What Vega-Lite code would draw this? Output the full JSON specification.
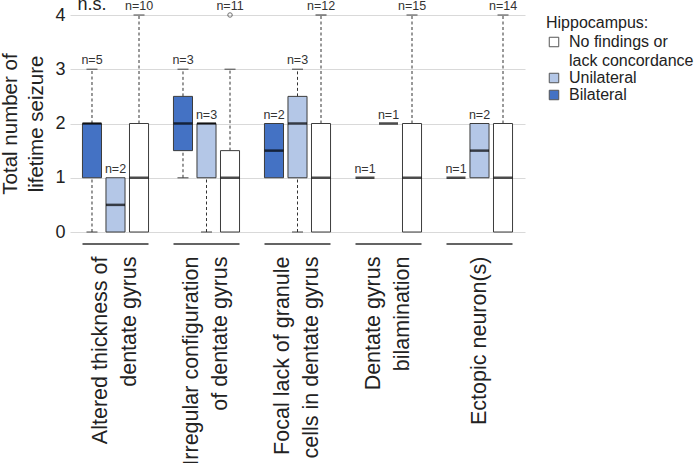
{
  "$schema": "https://vega.github.io/schema/vega-lite/v6.json",
  "width": 455,
  "height": 217,
  "autosize": {"type": "none"},
  "padding": {"left": 70, "top": 15, "right": 171, "bottom": 231},
  "background": "white",
  "config": {
    "font": "Liberation Sans",
    "view": {"stroke": null},
    "style": {"guide-label": {"lineHeight": 19}}
  },
  "datasets": {
    "stats": [
      {"group": "Altered thickness of\ndentate gyrus", "hippo": "Bilateral", "n": 5, "lo": 0, "q1": 1, "med": 2, "q3": 2, "hi": 3, "top": 3},
      {"group": "Altered thickness of\ndentate gyrus", "hippo": "Unilateral", "n": 2, "lo": 0, "q1": 0, "med": 0.5, "q3": 1, "hi": 1, "top": 1},
      {"group": "Altered thickness of\ndentate gyrus", "hippo": "No findings or lack concordance", "n": 10, "lo": 0, "q1": 0, "med": 1, "q3": 2, "hi": 4, "top": 4},
      {"group": "Irregular configuration\nof dentate gyrus", "hippo": "Bilateral", "n": 3, "lo": 1, "q1": 1.5, "med": 2, "q3": 2.5, "hi": 3, "top": 3},
      {"group": "Irregular configuration\nof dentate gyrus", "hippo": "Unilateral", "n": 3, "lo": 0, "q1": 1, "med": 2, "q3": 2, "hi": 2, "top": 2},
      {"group": "Irregular configuration\nof dentate gyrus", "hippo": "No findings or lack concordance", "n": 11, "lo": 0, "q1": 0, "med": 1, "q3": 1.5, "hi": 3, "top": 4},
      {"group": "Focal lack of granule\ncells in dentate gyrus", "hippo": "Bilateral", "n": 2, "lo": 1, "q1": 1, "med": 1.5, "q3": 2, "hi": 2, "top": 2},
      {"group": "Focal lack of granule\ncells in dentate gyrus", "hippo": "Unilateral", "n": 3, "lo": 0, "q1": 1, "med": 2, "q3": 2.5, "hi": 3, "top": 3},
      {"group": "Focal lack of granule\ncells in dentate gyrus", "hippo": "No findings or lack concordance", "n": 12, "lo": 0, "q1": 0, "med": 1, "q3": 2, "hi": 4, "top": 4},
      {"group": "Dentate gyrus\nbilamination", "hippo": "Bilateral", "n": 1, "lo": 1, "q1": 1, "med": 1, "q3": 1, "hi": 1, "top": 1},
      {"group": "Dentate gyrus\nbilamination", "hippo": "Unilateral", "n": 1, "lo": 2, "q1": 2, "med": 2, "q3": 2, "hi": 2, "top": 2},
      {"group": "Dentate gyrus\nbilamination", "hippo": "No findings or lack concordance", "n": 15, "lo": 0, "q1": 0, "med": 1, "q3": 2, "hi": 4, "top": 4},
      {"group": "Ectopic neuron(s)", "hippo": "Bilateral", "n": 1, "lo": 1, "q1": 1, "med": 1, "q3": 1, "hi": 1, "top": 1},
      {"group": "Ectopic neuron(s)", "hippo": "Unilateral", "n": 2, "lo": 1, "q1": 1, "med": 1.5, "q3": 2, "hi": 2, "top": 2},
      {"group": "Ectopic neuron(s)", "hippo": "No findings or lack concordance", "n": 14, "lo": 0, "q1": 0, "med": 1, "q3": 2, "hi": 4, "top": 4}
    ],
    "outliers": [
      {"group": "Irregular configuration\nof dentate gyrus", "hippo": "No findings or lack concordance", "value": 4}
    ],
    "groups": [
      {"group": "Altered thickness of\ndentate gyrus", "hippo": "Bilateral", "note": "n.s."},
      {"group": "Irregular configuration\nof dentate gyrus", "hippo": "Bilateral", "note": ""},
      {"group": "Focal lack of granule\ncells in dentate gyrus", "hippo": "Bilateral", "note": ""},
      {"group": "Dentate gyrus\nbilamination", "hippo": "Bilateral", "note": ""},
      {"group": "Ectopic neuron(s)", "hippo": "Bilateral", "note": ""}
    ]
  },
  "encoding": {
    "x": {
      "field": "group", "type": "nominal",
      "sort": ["Altered thickness of\ndentate gyrus", "Irregular configuration\nof dentate gyrus", "Focal lack of granule\ncells in dentate gyrus", "Dentate gyrus\nbilamination", "Ectopic neuron(s)"],
      "scale": {"paddingInner": 0, "paddingOuter": 0},
      "axis": {
        "title": null, "labelAngle": -90, "labelFontSize": 21.5, "labelLineHeight": 29,
        "labelPadding": 24, "labelColor": "#222", "domain": false, "ticks": false,
        "labelOffset": {"condition": {"test": "datum.value == 'Ectopic neuron(s)'", "value": 0}, "value": -14.5},
        "labelExpr": "split(datum.label, '\\n')", "labelLimit": 300
      }
    }
  },
  "layer": [
    {
      "data": {"name": "stats"},
      "transform": [{"filter": "datum.lo < datum.q1"}],
      "mark": {"type": "rule", "color": "#333", "strokeDash": [3, 2.5], "strokeWidth": 1},
      "encoding": {
        "xOffset": {"field": "hippo", "sort": ["Bilateral", "Unilateral", "No findings or lack concordance"], "scale": {"paddingInner": 0.19, "paddingOuter": 0.53}},
        "y": {"field": "lo", "type": "quantitative", "scale": {"domain": [0, 4], "nice": false}},
        "y2": {"field": "q1"}
      }
    },
    {
      "data": {"name": "stats"},
      "transform": [{"filter": "datum.hi > datum.q3"}],
      "mark": {"type": "rule", "color": "#333", "strokeDash": [3, 2.5], "strokeWidth": 1},
      "encoding": {
        "xOffset": {"field": "hippo", "sort": ["Bilateral", "Unilateral", "No findings or lack concordance"]},
        "y": {"field": "q3", "type": "quantitative"},
        "y2": {"field": "hi"}
      }
    },
    {
      "data": {"name": "stats"},
      "transform": [{"filter": "datum.lo < datum.q1"}],
      "mark": {"type": "tick", "orient": "horizontal", "color": "#333", "size": 11, "thickness": 1.3},
      "encoding": {
        "xOffset": {"field": "hippo", "sort": ["Bilateral", "Unilateral", "No findings or lack concordance"]},
        "y": {"field": "lo", "type": "quantitative"}
      }
    },
    {
      "data": {"name": "stats"},
      "transform": [{"filter": "datum.hi > datum.q3"}],
      "mark": {"type": "tick", "orient": "horizontal", "color": "#333", "size": 11, "thickness": 1.3},
      "encoding": {
        "xOffset": {"field": "hippo", "sort": ["Bilateral", "Unilateral", "No findings or lack concordance"]},
        "y": {"field": "hi", "type": "quantitative"}
      }
    },
    {
      "data": {"name": "stats"},
      "transform": [{"filter": "datum.n > 1"}],
      "mark": {"type": "bar", "stroke": "#3c3c3c", "strokeWidth": 1},
      "encoding": {
        "xOffset": {"field": "hippo", "sort": ["Bilateral", "Unilateral", "No findings or lack concordance"]},
        "y": {"field": "q1", "type": "quantitative", "axis": {
          "title": ["Total number of", "lifetime seizure"], "titleFontSize": 20.5, "titleFontWeight": "normal",
          "titleColor": "#222", "titleLineHeight": 26, "titlePadding": 8, "format": "d",
          "values": [0, 1, 2, 3, 4], "labelFontSize": 18, "labelColor": "#222", "labelPadding": 5,
          "domain": false, "ticks": false, "grid": true, "gridColor": "#d9d9d9", "gridWidth": 1.2
        }},
        "y2": {"field": "q3"},
        "color": {
          "field": "hippo", "type": "nominal",
          "scale": {"domain": ["No findings or lack concordance", "Unilateral", "Bilateral"], "range": ["#ffffff", "#b4c7e7", "#4472c4"]},
          "legend": {
            "orient": "none", "legendX": 476, "legendY": 0,
            "title": "Hippocampus:", "titleFontSize": 16, "titleFontWeight": "normal", "titleColor": "#222", "titlePadding": 3,
            "labelFontSize": 16, "labelColor": "#222", "labelOffset": 7, "labelLimit": 300,
            "symbolType": "square", "symbolSize": 90, "symbolStrokeColor": "#555", "symbolStrokeWidth": 1,
            "rowPadding": 1,
            "labelExpr": "datum.label == 'No findings or lack concordance' ? ['No findings or', 'lack concordance'] : datum.label"
          }
        }
      }
    },
    {
      "data": {"name": "stats"},
      "mark": {"type": "tick", "orient": "horizontal", "color": "#000", "size": 19, "thickness": 2.5},
      "encoding": {
        "xOffset": {"field": "hippo", "sort": ["Bilateral", "Unilateral", "No findings or lack concordance"]},
        "y": {"field": "med", "type": "quantitative"}
      }
    },
    {
      "data": {"name": "outliers"},
      "mark": {"type": "point", "shape": "circle", "filled": false, "color": "#333", "size": 20, "strokeWidth": 1},
      "encoding": {
        "xOffset": {"field": "hippo", "sort": ["Bilateral", "Unilateral", "No findings or lack concordance"]},
        "y": {"field": "value", "type": "quantitative"}
      }
    },
    {
      "data": {"name": "stats"},
      "transform": [{"calculate": "'n=' + datum.n", "as": "nlabel"}],
      "mark": {"type": "text", "fontSize": 12.5, "color": "#333", "baseline": "alphabetic", "dy": -5, "align": "center"},
      "encoding": {
        "xOffset": {"field": "hippo", "sort": ["Bilateral", "Unilateral", "No findings or lack concordance"]},
        "y": {"field": "top", "type": "quantitative"},
        "text": {"field": "nlabel"}
      }
    },
    {
      "data": {"name": "groups"},
      "mark": {"type": "text", "fontSize": 18, "color": "#222", "baseline": "alphabetic", "dy": -5, "align": "center"},
      "encoding": {
        "xOffset": {"field": "hippo", "sort": ["Bilateral", "Unilateral", "No findings or lack concordance"]},
        "y": {"datum": 4},
        "text": {"field": "note"}
      }
    },
    {
      "data": {"name": "groups"},
      "mark": {"type": "tick", "orient": "horizontal", "color": "#222", "size": 66, "thickness": 2, "yOffset": 12},
      "encoding": {
        "y": {"datum": 0}
      }
    }
  ]
}
